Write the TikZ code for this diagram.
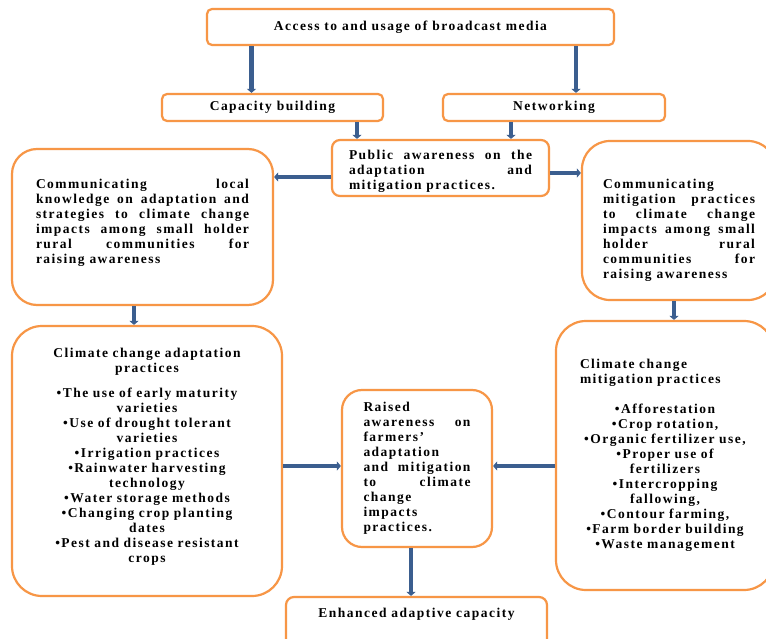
\documentclass[tikz,border=0pt]{standalone}
\usepackage{fontspec}
\setmainfont{Liberation Serif}[LetterSpace=11]
\usetikzlibrary{arrows.meta}
\definecolor{boxorange}{RGB}{247,150,70}
\definecolor{arrowblue}{RGB}{59,94,143}
\hyphenpenalty=10000
\exhyphenpenalty=10000
\tolerance=10000
\begin{document}
\begin{tikzpicture}[x=1pt, y=-1pt,
  obox/.style={draw=boxorange, line width=2.2pt, fill=white, rounded corners=#1,
    font=\bfseries\fontsize{13.5}{15}\selectfont, inner sep=0pt},
  obox/.default=5pt,
  arr/.style={draw=arrowblue, line width=4.5pt, -{Triangle[length=4pt,width=9pt]}}]
  \fill[white] (0,0) rectangle (766,639);
  \useasboundingbox (0,0) rectangle (766,639);

  \node[obox, minimum width=407pt, minimum height=36pt] (media) at (410.5,27) {Access to and usage of broadcast media};
  \node[obox, minimum width=221pt, minimum height=27pt] (capacity) at (272.5,107.5) {Capacity building};
  \node[obox, minimum width=222pt, minimum height=27pt] (network) at (554,107.5) {Networking};
  \node[obox=8pt, minimum width=217pt, minimum height=56pt, text width=183pt, align=justify] (public) at (440.5,168)
    {\rule{0pt}{15pt}Public awareness on the\linebreak adaptation and\linebreak mitigation practices.};
  \node[obox=25pt, minimum width=261pt, minimum height=156pt, text width=213pt, align=justify] (localcomm) at (142.5,227)
    {Communicating local\linebreak knowledge on adaptation and\linebreak strategies to climate change\linebreak impacts among small holder\linebreak rural communities for\linebreak raising awareness\rule[-11pt]{0pt}{11pt}};
  \node[obox=28pt, minimum width=194pt, minimum height=159pt, text width=152pt, align=justify] (mitcomm) at (679,220.5)
    {\rule{0pt}{29pt}Communicating\linebreak mitigation practices\linebreak to climate change\linebreak impacts among small\linebreak holder rural\linebreak communities for\linebreak raising awareness};
  \node[obox=30pt, minimum width=270pt, minimum height=270pt, text width=240pt, align=center] (adapt) at (147,461)
    {Climate change adaptation\\practices\\[10pt]
     •The use of early maturity\\varieties\\•Use of drought tolerant\\varieties\\•Irrigation practices\\
     •Rainwater harvesting\\technology\\•Water storage methods\\•Changing crop planting\\dates\\
     •Pest and disease resistant\\crops\rule[-11pt]{0pt}{11pt}};
  \node[obox=30pt, minimum width=218pt, minimum height=269pt, text width=170pt, align=center] (mitig) at (665,455.5)
    {\makebox[170pt][l]{Climate change}\\\makebox[170pt][l]{mitigation practices}\\[15pt]
     •Afforestation\\•Crop rotation,\\•Organic fertilizer use,\\•Proper use of\\fertilizers\\
     •Intercropping\\fallowing,\\•Contour farming,\\•Farm border building\\•Waste management};
  \node[obox=20pt, minimum width=150pt, minimum height=157pt, text width=107pt, align=justify] (raised) at (417,468.5)
    {Raised\linebreak awareness on\linebreak farmers’\linebreak adaptation\linebreak and mitigation\linebreak to climate\linebreak change\linebreak impacts\linebreak practices.};
  \node[obox=8pt, minimum width=261pt, minimum height=50pt, text height=9pt, text depth=19pt] (enhanced) at (416.5,622)
    {Enhanced adaptive capacity};

  \draw[arr] ([xshift=-21pt]capacity.north |- media.south) -- ([xshift=-21pt]capacity.north);
  \draw[arr] ([xshift=22pt]network.north |- media.south) -- ([xshift=22pt]network.north);
  \draw[arr] ([xshift=84.5pt]capacity.south) -- ([xshift=84.5pt]capacity.south |- public.north);
  \draw[arr] ([xshift=-43pt]network.south) -- ([xshift=-43pt]network.south |- public.north);
  \draw[arr] ([yshift=-9pt]public.west) -- ([yshift=-9pt]public.west -| localcomm.east);
  \draw[arr] ([yshift=-5pt]public.east) -- ([yshift=-5pt]public.east -| mitcomm.west);
  \draw[arr] ([xshift=-8.5pt]localcomm.south) -- ([xshift=-8.5pt]localcomm.south |- adapt.north);
  \draw[arr] ([xshift=-5pt]mitcomm.south) -- ([xshift=-5pt]mitcomm.south |- mitig.north);
  \draw[arr] ([yshift=2.5pt]raised.west -| adapt.east) -- ([yshift=2.5pt]raised.west);
  \draw[arr] ([yshift=2.5pt]raised.east -| mitig.west) -- ([yshift=2.5pt]raised.east);
  \draw[arr] ([xshift=-6pt]raised.south) -- ([xshift=-6pt]raised.south |- enhanced.north);
\end{tikzpicture}
\end{document}
